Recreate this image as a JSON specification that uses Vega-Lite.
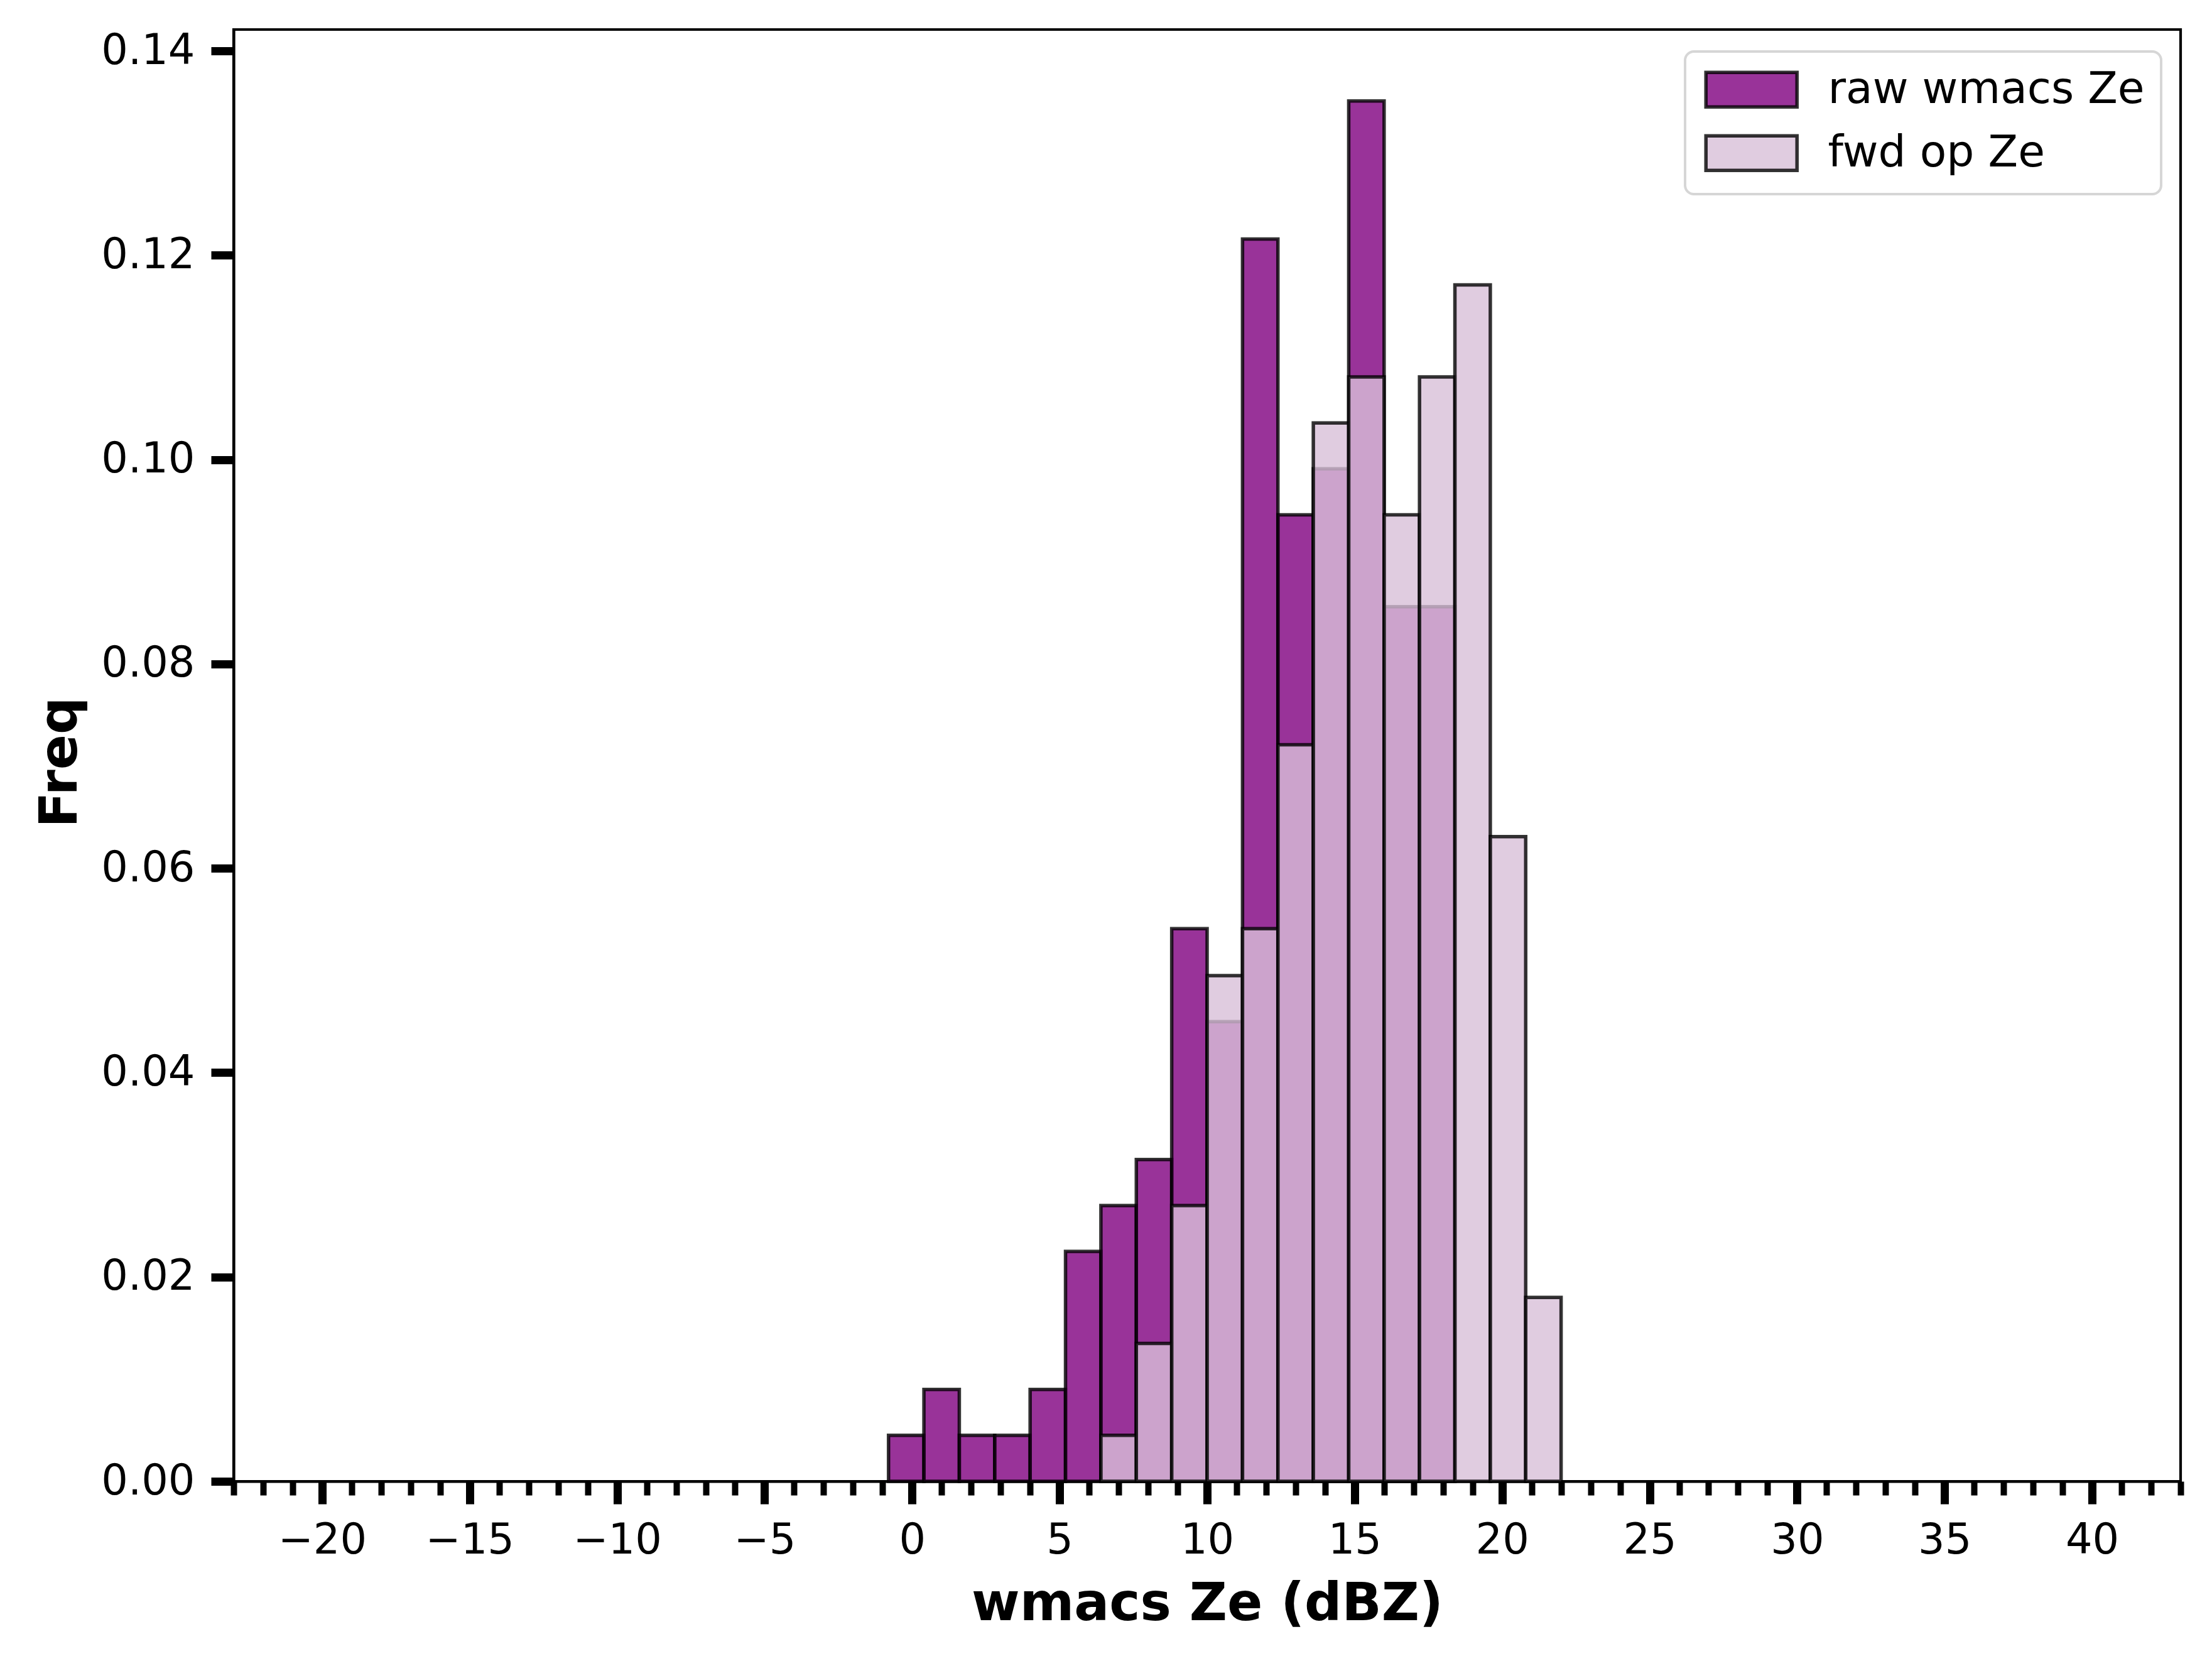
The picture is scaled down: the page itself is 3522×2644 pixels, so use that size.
{
  "$schema": "https://vega.github.io/schema/vega-lite/v6.json",
  "autosize": {"type": "none"},
  "width": 3100,
  "height": 2311,
  "padding": {"left": 372, "top": 47, "right": 50, "bottom": 286},
  "background": "white",
  "config": {
    "font": "DejaVu Sans",
    "view": {"stroke": "black", "strokeWidth": 4.2},
    "axis": {"grid": false, "domainColor": "black", "domainWidth": 4.2, "tickColor": "black", "labelColor": "black", "titleColor": "black", "labelFont": "DejaVu Sans", "titleFont": "DejaVu Sans", "labelFontSize": 67, "titleFontSize": 83, "titleFontWeight": "bold"}
  },
  "data": {"values": [
    {"bin_start": -0.8, "bin_end": 0.4, "freq": 0.0045, "series": "raw wmacs Ze"},
    {"bin_start": 0.4, "bin_end": 1.6, "freq": 0.0090, "series": "raw wmacs Ze"},
    {"bin_start": 1.6, "bin_end": 2.8, "freq": 0.0045, "series": "raw wmacs Ze"},
    {"bin_start": 2.8, "bin_end": 4.0, "freq": 0.0045, "series": "raw wmacs Ze"},
    {"bin_start": 4.0, "bin_end": 5.2, "freq": 0.0090, "series": "raw wmacs Ze"},
    {"bin_start": 5.2, "bin_end": 6.4, "freq": 0.0225, "series": "raw wmacs Ze"},
    {"bin_start": 6.4, "bin_end": 7.6, "freq": 0.0270, "series": "raw wmacs Ze"},
    {"bin_start": 7.6, "bin_end": 8.8, "freq": 0.0315, "series": "raw wmacs Ze"},
    {"bin_start": 8.8, "bin_end": 10.0, "freq": 0.0541, "series": "raw wmacs Ze"},
    {"bin_start": 10.0, "bin_end": 11.2, "freq": 0.0450, "series": "raw wmacs Ze"},
    {"bin_start": 11.2, "bin_end": 12.4, "freq": 0.1216, "series": "raw wmacs Ze"},
    {"bin_start": 12.4, "bin_end": 13.6, "freq": 0.0946, "series": "raw wmacs Ze"},
    {"bin_start": 13.6, "bin_end": 14.8, "freq": 0.0991, "series": "raw wmacs Ze"},
    {"bin_start": 14.8, "bin_end": 16.0, "freq": 0.1351, "series": "raw wmacs Ze"},
    {"bin_start": 16.0, "bin_end": 17.2, "freq": 0.0856, "series": "raw wmacs Ze"},
    {"bin_start": 17.2, "bin_end": 18.4, "freq": 0.0856, "series": "raw wmacs Ze"},
    {"bin_start": 6.4, "bin_end": 7.6, "freq": 0.0045, "series": "fwd op Ze"},
    {"bin_start": 7.6, "bin_end": 8.8, "freq": 0.0135, "series": "fwd op Ze"},
    {"bin_start": 8.8, "bin_end": 10.0, "freq": 0.0270, "series": "fwd op Ze"},
    {"bin_start": 10.0, "bin_end": 11.2, "freq": 0.0495, "series": "fwd op Ze"},
    {"bin_start": 11.2, "bin_end": 12.4, "freq": 0.0541, "series": "fwd op Ze"},
    {"bin_start": 12.4, "bin_end": 13.6, "freq": 0.0721, "series": "fwd op Ze"},
    {"bin_start": 13.6, "bin_end": 14.8, "freq": 0.1036, "series": "fwd op Ze"},
    {"bin_start": 14.8, "bin_end": 16.0, "freq": 0.1081, "series": "fwd op Ze"},
    {"bin_start": 16.0, "bin_end": 17.2, "freq": 0.0946, "series": "fwd op Ze"},
    {"bin_start": 17.2, "bin_end": 18.4, "freq": 0.1081, "series": "fwd op Ze"},
    {"bin_start": 18.4, "bin_end": 19.6, "freq": 0.1171, "series": "fwd op Ze"},
    {"bin_start": 19.6, "bin_end": 20.8, "freq": 0.0631, "series": "fwd op Ze"},
    {"bin_start": 20.8, "bin_end": 22.0, "freq": 0.0180, "series": "fwd op Ze"}
  ]},
  "mark": {"type": "rect", "fillOpacity": 0.8, "stroke": "black", "strokeOpacity": 0.8, "strokeWidth": 5.5},
  "encoding": {
    "x": {
      "field": "bin_start", "type": "quantitative",
      "scale": {"domain": [-23, 43], "nice": false, "zero": false},
      "axis": {
        "title": "wmacs Ze (dBZ)",
        "values": [-23,-22,-21,-20,-19,-18,-17,-16,-15,-14,-13,-12,-11,-10,-9,-8,-7,-6,-5,-4,-3,-2,-1,0,1,2,3,4,5,6,7,8,9,10,11,12,13,14,15,16,17,18,19,20,21,22,23,24,25,26,27,28,29,30,31,32,33,34,35,36,37,38,39,40,41,42,43],
        "labelExpr": "datum.value % 5 === 0 ? format(datum.value, 'd') : ''",
        "labelOverlap": false,
        "labelBaseline": "alphabetic",
        "labelPadding": 78,
        "tickSize": {"condition": {"test": "datum.value % 5 === 0", "value": 36}, "value": 22},
        "tickWidth": {"condition": {"test": "datum.value % 5 === 0", "value": 13}, "value": 10},
        "titleBaseline": "alphabetic",
        "titleY": 220,
        "titleAnchor": "middle"
      }
    },
    "x2": {"field": "bin_end"},
    "y": {
      "field": "freq", "type": "quantitative",
      "scale": {"domain": [0, 0.1421], "nice": false},
      "axis": {
        "title": "Freq",
        "values": [0, 0.02, 0.04, 0.06, 0.08, 0.10, 0.12, 0.14],
        "format": ".2f",
        "tickSize": 36,
        "tickWidth": 13,
        "labelPadding": 26,
        "titleAngle": -90,
        "titleBaseline": "alphabetic",
        "titleAlign": "center",
        "titleX": -251,
        "titleY": 1166
      }
    },
    "y2": {"datum": 0},
    "fill": {
      "field": "series", "type": "nominal",
      "scale": {"domain": ["raw wmacs Ze", "fwd op Ze"], "range": ["#800080", "#D8BFD8"]},
      "legend": {
        "title": null,
        "orient": "none",
        "legendX": 2311,
        "legendY": 35,
        "padding": 26,
        "fillColor": "rgba(255,255,255,0.8)",
        "strokeColor": "#d6d6d6",
        "cornerRadius": 14,
        "labelFont": "DejaVu Sans",
        "labelFontSize": 69.5,
        "labelColor": "black",
        "labelLimit": 2000,
        "labelOffset": 132,
        "rowPadding": 23,
        "symbolType": "M-1,-1H4.273V1H-1Z",
        "symbolSize": 3025,
        "symbolStrokeColor": "black",
        "symbolStrokeWidth": 5.5,
        "encode": {
          "legend": {"update": {"strokeWidth": {"value": 4}}},
          "symbols": {"update": {"fillOpacity": {"value": 0.8}, "strokeOpacity": {"value": 0.8}}}
        }
      }
    }
  }
}
